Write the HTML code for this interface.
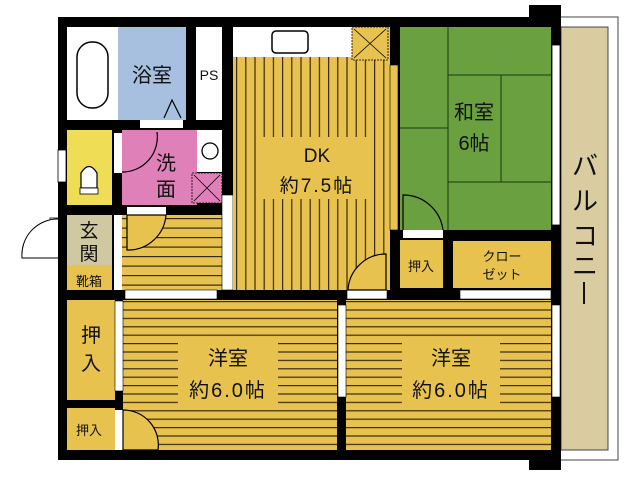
<!DOCTYPE html>
<html><head><meta charset="utf-8"><style>
body{margin:0;background:#fff;}
svg{display:block;}
text{font-family:"Liberation Sans","Noto Sans CJK JP",sans-serif;fill:#111;}
</style></head><body>
<svg width="640" height="480" viewBox="0 0 640 480" xmlns="http://www.w3.org/2000/svg">
<defs>
<pattern id="vs" x="236" y="0" width="9.2" height="10" patternUnits="userSpaceOnUse">
<rect width="9.2" height="10" fill="#e8c24e"/><rect x="0" width="1.2" height="10" fill="#3a2a10"/></pattern>
<pattern id="hs" x="0" y="301" width="10" height="8.4" patternUnits="userSpaceOnUse">
<rect width="10" height="8.4" fill="#e8c24e"/><rect y="0" width="10" height="1.2" fill="#3a2a10"/></pattern>
<pattern id="hs2" x="0" y="218" width="10" height="9.5" patternUnits="userSpaceOnUse">
<rect width="10" height="9.5" fill="#e8c24e"/><rect y="0" width="10" height="1.2" fill="#3a2a10"/></pattern>
</defs>
<!-- balcony -->
<rect x="560" y="17" width="58" height="443" fill="#fff" stroke="#444" stroke-width="1"/>
<rect x="561" y="27" width="47" height="423" fill="#d8cca0" stroke="#444" stroke-width="1"/>
<text x="585" y="175" font-size="26" text-anchor="middle">バ</text>
<text x="585" y="210" font-size="26" text-anchor="middle">ル</text>
<text x="585" y="245" font-size="26" text-anchor="middle">コ</text>
<text x="585" y="275" font-size="26" text-anchor="middle">ニ</text>
<rect x="583" y="282" width="2" height="22" fill="#111"/>
<!-- outer black -->
<rect x="58" y="17" width="503" height="443" fill="#000"/>
<rect x="529" y="5" width="32" height="28" fill="#000"/>
<rect x="529" y="440" width="32" height="30" fill="#000"/>
<!-- bath area -->
<rect x="67" y="27" width="51" height="93" fill="#fff"/>
<rect x="77" y="42" width="31" height="66" rx="15" fill="#fff" stroke="#000" stroke-width="1.5"/>
<rect x="118" y="27" width="68" height="93" fill="#a8c0e0"/>
<text x="152" y="82" font-size="20" text-anchor="middle">浴室</text>
<path d="M164 118 L172 100 L181 118" fill="none" stroke="#000" stroke-width="1.2"/>
<rect x="140" y="120" width="43" height="8" fill="#fff"/>
<rect x="196" y="27" width="26" height="93" fill="#fff"/>
<text x="209" y="80" font-size="14" text-anchor="middle">PS</text>
<!-- toilet -->
<rect x="67" y="130" width="45" height="75" fill="#eedd55"/>
<rect x="58" y="150" width="8" height="32" fill="#fff" stroke="#000" stroke-width="0.8"/>
<path d="M81 188 L81 173 Q89 160 97 173 L97 188 Z" fill="#fff" stroke="#000" stroke-width="1.2"/>
<rect x="80" y="188" width="18" height="6" fill="#fff" stroke="#000" stroke-width="0.8"/>
<!-- wash -->
<rect x="122" y="130" width="75" height="75" fill="#e080b8"/>
<rect x="114" y="133" width="8" height="40" fill="#fff"/>
<path d="M122 172 A35 35 0 0 0 157 132" fill="none" stroke="#000" stroke-width="1.2"/>
<text x="166" y="170" font-size="20" text-anchor="middle">洗</text>
<text x="166" y="196" font-size="20" text-anchor="middle">面</text>
<rect x="197" y="130" width="25" height="42" fill="#fff"/>
<circle cx="210" cy="151" r="8" fill="none" stroke="#000" stroke-width="1.3"/>
<rect x="192" y="173" width="30" height="30" fill="#e080b8" stroke="#000" stroke-width="0.8" stroke-dasharray="2 1"/>
<path d="M194 175 L220 201 M220 175 L194 201" stroke="#000" stroke-width="0.8"/>
<!-- entry hall -->
<rect x="122" y="215" width="100" height="75" fill="url(#hs2)"/>
<rect x="114" y="215" width="8" height="75" fill="#fff"/>
<rect x="127" y="207" width="39" height="8" fill="#fff"/>
<path d="M127 215 L127 250 A38 38 0 0 0 166 215 Z" fill="#e8c24e" stroke="#000" stroke-width="1.2"/>
<rect x="222" y="195" width="11" height="95" fill="#fff" stroke="#000" stroke-width="0.6"/>
<rect x="125" y="290" width="92" height="9" fill="#fff" stroke="#000" stroke-width="0.6"/>
<!-- genkan -->
<rect x="67" y="215" width="45" height="50" fill="#d0c8a0"/>
<rect x="67" y="265" width="45" height="25" fill="#e8c24e"/>
<text x="89" y="237" font-size="19" text-anchor="middle">玄</text>
<text x="89" y="260" font-size="19" text-anchor="middle">関</text>
<text x="89" y="286" font-size="13" text-anchor="middle">靴箱</text>
<rect x="50" y="218" width="8" height="40" fill="#fff" stroke="#000" stroke-width="0.8"/>
<path d="M58 258 L22 258 A36 36 0 0 1 58 219" fill="#fff" stroke="#000" stroke-width="1"/>
<!-- DK -->
<rect x="233" y="27" width="157" height="263" fill="url(#vs)"/>
<rect x="233" y="27" width="119" height="30" fill="#fff"/>
<rect x="272" y="31" width="36" height="22" rx="4" fill="#fff" stroke="#000" stroke-width="1.5"/>
<rect x="352" y="27" width="36" height="33" fill="#e8c24e" stroke="#000" stroke-width="0.8" stroke-dasharray="2 1"/>
<path d="M354 29 L386 58 M386 29 L354 58" stroke="#000" stroke-width="0.8"/>
<rect x="262" y="137" width="110" height="62" fill="#e8c24e"/>
<text x="317" y="162" font-size="19" text-anchor="middle">DK</text>
<text x="317" y="192" font-size="19" text-anchor="middle" letter-spacing="2">約7.5帖</text>
<rect x="390" y="65" width="8" height="165" fill="#e8c24e" stroke="#000" stroke-width="0.6"/>
<rect x="347" y="290" width="40" height="9" fill="#fff" stroke="#000" stroke-width="0.6"/>
<path d="M348 290 A38 38 0 0 1 386 254 L386 290 Z" fill="#e8c24e" stroke="#000" stroke-width="1.2"/>
<!-- washitsu -->
<rect x="400" y="27" width="151" height="203" fill="#6aa040"/>
<g stroke="#1a3a10" stroke-width="1" fill="none">
<line x1="448" y1="27" x2="448" y2="230"/>
<line x1="400" y1="128" x2="448" y2="128"/>
<line x1="448" y1="75" x2="551" y2="75"/>
<line x1="448" y1="182" x2="551" y2="182"/>
<line x1="501" y1="75" x2="501" y2="182"/>
</g>
<rect x="449" y="90" width="51" height="70" fill="#6aa040"/>
<text x="474" y="119" font-size="20" text-anchor="middle">和室</text>
<text x="474" y="150" font-size="20" text-anchor="middle">6帖</text>
<rect x="552" y="45" width="8" height="180" fill="#fff" stroke="#000" stroke-width="0.8"/>
<path d="M403 230 L403 195 A40 40 0 0 1 443 230" fill="#6aa040" stroke="#000" stroke-width="1.2"/>
<rect x="403" y="230" width="40" height="8" fill="#fff"/>
<!-- closets -->
<rect x="400" y="240" width="43" height="48" fill="#e8c24e"/>
<text x="421" y="271" font-size="13" text-anchor="middle">押入</text>
<rect x="453" y="241" width="98" height="47" fill="#e8c24e"/>
<text x="502" y="261" font-size="13" text-anchor="middle">クロー</text>
<text x="502" y="279" font-size="13" text-anchor="middle">ゼット</text>
<rect x="460" y="290" width="91" height="9" fill="#fff" stroke="#000" stroke-width="0.6"/>
<!-- bedrooms -->
<rect x="123" y="300" width="214" height="150" fill="url(#hs)"/>
<rect x="346" y="300" width="205" height="150" fill="url(#hs)"/>
<rect x="178" y="343" width="100" height="62" fill="#e8c24e"/>
<rect x="402" y="343" width="98" height="62" fill="#e8c24e"/>
<text x="228" y="365" font-size="20" text-anchor="middle">洋室</text>
<text x="228" y="397" font-size="20" text-anchor="middle" letter-spacing="2">約6.0帖</text>
<text x="451" y="365" font-size="20" text-anchor="middle">洋室</text>
<text x="451" y="397" font-size="20" text-anchor="middle" letter-spacing="2">約6.0帖</text>
<rect x="338" y="305" width="8" height="92" fill="#fff" stroke="#000" stroke-width="0.6"/>
<rect x="552" y="305" width="8" height="92" fill="#fff" stroke="#000" stroke-width="0.6"/>
<!-- left closets -->
<rect x="67" y="300" width="48" height="100" fill="#e8c24e"/>
<text x="91" y="342" font-size="20" text-anchor="middle">押</text>
<text x="91" y="370" font-size="20" text-anchor="middle">入</text>
<rect x="115" y="301" width="8" height="90" fill="#fff" stroke="#000" stroke-width="0.6"/>
<rect x="67" y="408" width="48" height="42" fill="#e8c24e"/>
<text x="89" y="435" font-size="13" text-anchor="middle">押入</text>
<rect x="115" y="410" width="8" height="40" fill="#fff"/>
<path d="M123 410 A35 35 0 0 1 158 450 L123 450 Z" fill="#e8c24e" stroke="#000" stroke-width="1.2"/>
</svg>
</body></html>
